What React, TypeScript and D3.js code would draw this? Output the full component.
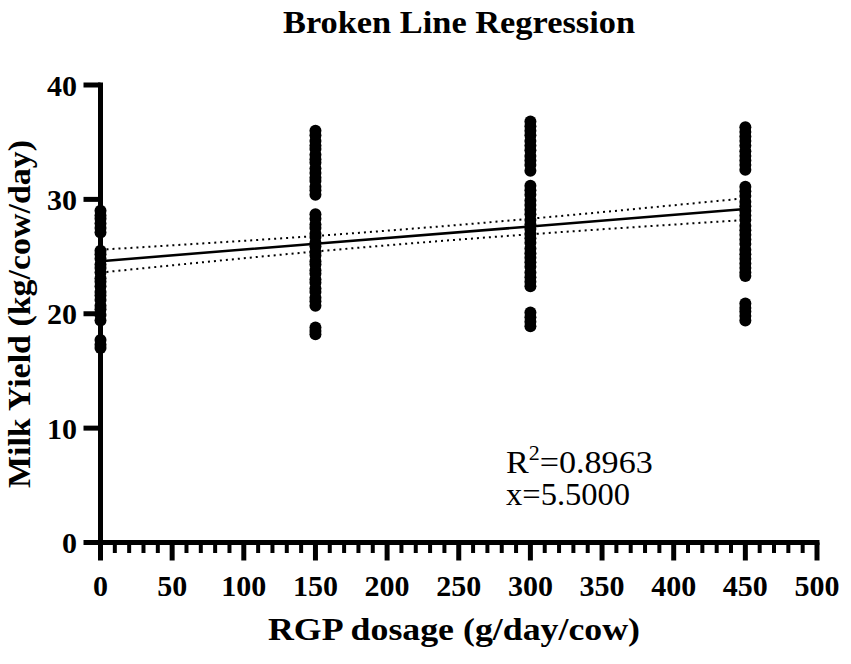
import React from "react";
import * as d3 from "d3";

const W = 851;
const H = 664;

const doses = [0, 150, 300, 450];
const yieldAt0 = [29.0, 28.6, 28.3, 27.9, 27.5, 27.1, 25.5, 25.2, 24.8, 24.3, 24.0, 23.6, 23.1, 22.8, 22.4, 21.9, 21.6, 21.2, 20.7, 20.4, 19.9, 19.4, 17.7, 17.3, 17.0];
const yieldAt150 = [36.0, 35.6, 35.1, 34.7, 34.4, 33.9, 33.5, 33.2, 32.7, 32.3, 31.9, 31.6, 31.1, 30.8, 30.4, 28.7, 28.3, 27.8, 27.5, 27.0, 26.7, 26.2, 25.9, 25.4, 25.1, 24.6, 24.3, 23.8, 23.5, 23.0, 22.7, 22.2, 21.9, 21.4, 21.1, 20.7, 18.8, 18.5, 18.2];
const yieldAt300 = [36.8, 36.4, 36.0, 35.6, 35.1, 34.7, 34.3, 33.8, 33.4, 33.0, 32.5, 31.2, 30.8, 30.4, 29.9, 29.5, 29.1, 28.7, 28.2, 27.8, 27.4, 27.0, 26.6, 26.2, 25.7, 25.3, 24.9, 24.5, 24.1, 23.6, 23.2, 22.8, 22.4, 20.1, 19.7, 19.3, 18.9];
const yieldAt450 = [36.3, 35.9, 35.5, 35.1, 34.7, 34.2, 33.8, 33.4, 33.0, 32.6, 31.1, 30.7, 30.3, 29.8, 29.4, 29.0, 28.6, 28.2, 27.7, 27.3, 26.9, 26.5, 26.1, 25.6, 25.2, 24.8, 24.4, 24.0, 23.6, 23.3, 20.9, 20.5, 20.2, 19.8, 19.4];
const yieldSeries = [yieldAt0, yieldAt150, yieldAt300, yieldAt450];

const fitLine = [24.6, 26.12, 27.63, 29.15];
const bandUpper = [25.6, 26.8, 28.31, 30.1];
const bandLower = [23.6, 25.44, 26.95, 28.2];

const xTicks = [0, 50, 100, 150, 200, 250, 300, 350, 400, 450, 500];
const xMinorTicks = d3.range(0, 501, 10);
const yTicks = [0, 10, 20, 30, 40];

const title = "Broken Line Regression";
const xLabel = "RGP dosage (g/day/cow)";
const yLabel = "Milk Yield (kg/cow/day)";
const r2Text = "0.8963";
const xText = "5.5000";

const FONT = "'Liberation Serif', 'Times New Roman', serif";

export default function App() {
  const x = d3.scaleLinear().domain([0, 500]).range([100.5, 817]);
  const y = d3.scaleLinear().domain([0, 40]).range([542.5, 85]);

  const pts: { d: number; v: number }[] = [];
  doses.forEach((d, i) => yieldSeries[i].forEach((v) => pts.push({ d, v })));

  const line = d3
    .line<number>()
    .x((_, i) => x(doses[i]))
    .y((v) => y(v));
  const curved = d3
    .line<number>()
    .x((_, i) => x(doses[i]))
    .y((v) => y(v))
    .curve(d3.curveNatural);

  return (
    <svg
      width={W}
      height={H}
      style={{ position: "absolute", left: 0, top: 0, background: "#fff" }}
      fontFamily={FONT}
    >
      <text x={459} y={33} textAnchor="middle" fontWeight="bold" fontSize={32} fill="#000" textLength={352} lengthAdjust="spacingAndGlyphs">
        {title}
      </text>

      {/* points */}
      {pts.map((p, i) => (
        <circle key={i} cx={x(p.d)} cy={y(p.v)} r={6} fill="#000" />
      ))}

      {/* CI band */}
      <path d={curved(bandUpper) || ""} fill="none" stroke="#000" strokeWidth={2} strokeDasharray="2,4" />
      <path d={curved(bandLower) || ""} fill="none" stroke="#000" strokeWidth={2} strokeDasharray="2,4" />
      {/* fit */}
      <path d={line(fitLine) || ""} fill="none" stroke="#000" strokeWidth={2.5} />

      {/* axes */}
      <line x1={x(0)} x2={x(0)} y1={y(40) - 2.5} y2={y(0) + 2.5} stroke="#000" strokeWidth={5} />
      <line x1={x(0) - 2.5} x2={x(500) + 2.5} y1={y(0)} y2={y(0)} stroke="#000" strokeWidth={5} />

      {xMinorTicks.map((t) => (
        <line key={"m" + t} x1={x(t)} x2={x(t)} y1={y(0)} y2={y(0) + (t % 50 === 0 ? 18 : 10.5)} stroke="#000" strokeWidth={t % 50 === 0 ? 5 : 4} />
      ))}
      {xTicks.map((t) => (
        <text key={"xt" + t} x={x(t)} y={596} textAnchor="middle" fontWeight="bold" fontSize={30} fill="#000">
          {t}
        </text>
      ))}
      {yTicks.map((t) => (
        <g key={"yt" + t}>
          <line x1={x(0)} x2={x(0) - 17} y1={y(t)} y2={y(t)} stroke="#000" strokeWidth={5} />
          <text x={77} y={y(t) + 10.5} textAnchor="end" fontWeight="bold" fontSize={30} fill="#000">
            {t}
          </text>
        </g>
      ))}

      <text x={454} y={640} textAnchor="middle" fontWeight="bold" fontSize={32} fill="#000" textLength={372} lengthAdjust="spacingAndGlyphs">
        {xLabel}
      </text>
      <text transform={`translate(30,314) rotate(-90)`} textAnchor="middle" fontWeight="bold" fontSize={32} fill="#000" textLength={348} lengthAdjust="spacingAndGlyphs">
        {yLabel}
      </text>

      <g transform="translate(506,473) scale(1.1,1)">
        <text x={0} y={0} fontSize={31} fill="#000">
          R<tspan dy={-13} fontSize={20}>2</tspan>
          <tspan dy={13}>={r2Text}</tspan>
        </text>
      </g>
      <g transform="translate(506,505) scale(1.05,1)">
        <text x={0} y={0} fontSize={31} fill="#000">
          x={xText}
        </text>
      </g>
    </svg>
  );
}
